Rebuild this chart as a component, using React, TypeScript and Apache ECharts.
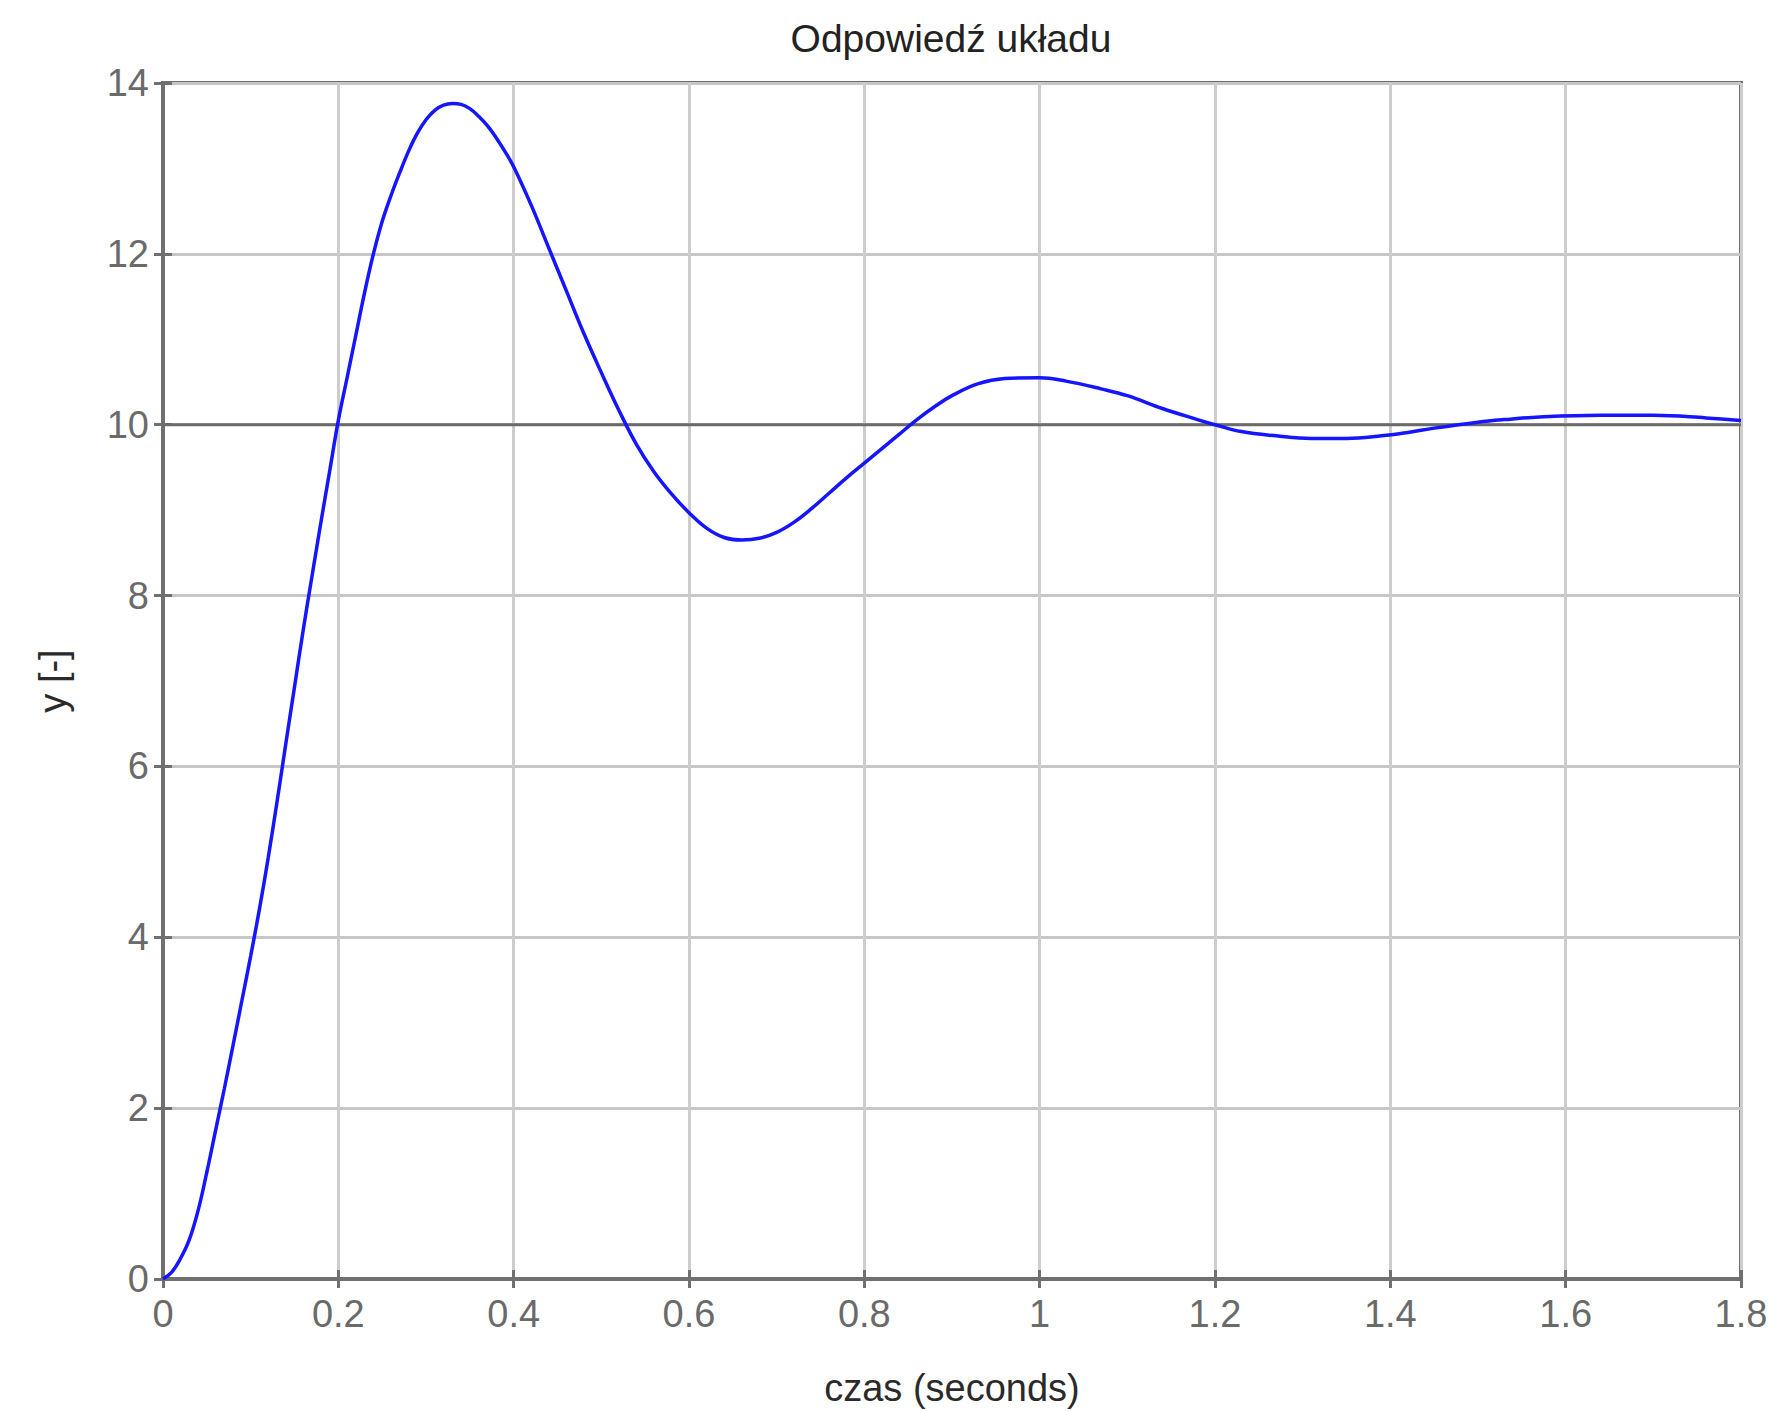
import React, { useEffect, useRef } from "react";
import * as echarts from "echarts";

const titleText = "Odpowiedź układu";
const xName = "czas (seconds)";
const yName = "y [-]";

const times = [
  0, 0.01, 0.02, 0.03, 0.04, 0.05, 0.06, 0.07, 0.08, 0.09, 0.1, 0.11, 0.12, 0.13, 0.14, 0.15,
  0.16, 0.17, 0.18, 0.19, 0.2, 0.21, 0.22, 0.23, 0.24, 0.25, 0.26, 0.27, 0.28, 0.29, 0.3, 0.31,
  0.32, 0.33, 0.34, 0.35, 0.36, 0.37, 0.38, 0.39, 0.4, 0.42, 0.44, 0.46, 0.48, 0.5, 0.52, 0.54,
  0.56, 0.58, 0.6, 0.62, 0.64, 0.66, 0.68, 0.7, 0.72, 0.74, 0.76, 0.78, 0.8, 0.82, 0.84, 0.86,
  0.88, 0.9, 0.93, 0.96, 1.0, 1.03, 1.07, 1.1, 1.14, 1.18, 1.2, 1.23, 1.27, 1.31, 1.35, 1.39,
  1.42, 1.45, 1.5, 1.53, 1.57, 1.64, 1.7, 1.76, 1.8,
];

const response = [
  0, 0.08, 0.24, 0.46, 0.8, 1.25, 1.74, 2.23, 2.74, 3.26, 3.78, 4.33, 4.93, 5.58, 6.26, 6.93,
  7.6, 8.23, 8.85, 9.45, 10.05, 10.55, 11.05, 11.55, 12.0, 12.38, 12.68, 12.95, 13.2, 13.41, 13.57, 13.68,
  13.74, 13.76, 13.75, 13.7, 13.61, 13.5, 13.36, 13.2, 13.02, 12.57, 12.07, 11.57, 11.07, 10.61, 10.17, 9.77,
  9.45, 9.19, 8.97, 8.79, 8.68, 8.65, 8.67, 8.74, 8.86, 9.02, 9.2, 9.38, 9.55, 9.72, 9.89, 10.06,
  10.21, 10.34, 10.48, 10.54, 10.55, 10.51, 10.42, 10.34, 10.19, 10.06, 10.0, 9.92, 9.87, 9.84, 9.84, 9.87,
  9.91, 9.96, 10.03, 10.06, 10.09, 10.11, 10.11, 10.08, 10.05,
];

const refTimes = [0, 1.8];
const refValues = [10, 10];

const xMin = 0;
const xMax = 1.8;
const xStep = 0.2;
const yMin = 0;
const yMax = 14;
const yStep = 2;

const FONT = "'Liberation Sans', Arial, sans-serif";
const FRAME = "#707070";

export default function App() {
  const ref = useRef<HTMLDivElement>(null);

  useEffect(() => {
    if (!ref.current) return;
    const chart = echarts.init(ref.current, undefined, { renderer: "svg" });

    const tick = { show: true, inside: true, length: 9, lineStyle: { color: FRAME, width: 3 } };
    const xFmt = (v: number) => {
      const r = Math.round(v * 10) / 10;
      return Number.isInteger(r) ? String(r) : r.toFixed(1);
    };

    chart.setOption({
      animation: false,
      backgroundColor: "#ffffff",
      title: {
        text: titleText,
        left: 946,
        top: 14,
        textAlign: "center",
        textStyle: { fontFamily: FONT, fontSize: 39, fontWeight: "normal", color: "#222222" },
      },
      grid: {
        left: 163,
        right: 32,
        top: 83,
        bottom: 123,
        show: true,
        borderColor: FRAME,
        borderWidth: 4,
        backgroundColor: "#ffffff",
      },
      xAxis: [
        {
          type: "value",
          min: xMin,
          max: xMax,
          interval: xStep,
          position: "bottom",
          name: xName,
          nameLocation: "middle",
          nameGap: 90,
          nameTextStyle: { fontFamily: FONT, fontSize: 38, color: "#2a2a2a" },
          axisLine: { show: true, lineStyle: { color: FRAME, width: 4 } },
          axisTick: tick,
          axisLabel: {
            fontFamily: FONT,
            fontSize: 38,
            color: "#6a6a6a",
            margin: 16,
            formatter: xFmt,
          },
          splitLine: { show: true, lineStyle: { color: "#cdcdcd", width: 3 } },
        },
        {
          type: "value",
          min: xMin,
          max: xMax,
          interval: xStep,
          position: "top",
          axisLine: { show: true, lineStyle: { color: FRAME, width: 4 } },
          axisTick: tick,
          axisLabel: { show: false },
          splitLine: { show: false },
        },
      ],
      yAxis: [
        {
          type: "value",
          min: yMin,
          max: yMax,
          interval: yStep,
          position: "left",
          name: yName,
          nameLocation: "middle",
          nameGap: 91,
          nameTextStyle: { fontFamily: FONT, fontSize: 38, color: "#2a2a2a" },
          axisLine: { show: true, lineStyle: { color: FRAME, width: 4 } },
          axisTick: tick,
          axisLabel: { fontFamily: FONT, fontSize: 38, color: "#6a6a6a", margin: 14 },
          splitLine: { show: true, lineStyle: { color: "#c6c6c6", width: 3 } },
        },
        {
          type: "value",
          min: yMin,
          max: yMax,
          interval: yStep,
          position: "right",
          axisLine: { show: true, lineStyle: { color: FRAME, width: 4 } },
          axisTick: tick,
          axisLabel: { show: false },
          splitLine: { show: false },
        },
      ],
      series: [
        {
          type: "line",
          xAxisIndex: 0,
          yAxisIndex: 0,
          data: refTimes.map((t, i) => [t, refValues[i]]),
          showSymbol: false,
          lineStyle: { color: "#6b6b6b", width: 3 },
          silent: true,
          z: 2,
        },
        {
          type: "line",
          xAxisIndex: 0,
          yAxisIndex: 0,
          data: times.map((t, i) => [t, response[i]]),
          showSymbol: false,
          smooth: 0.4,
          lineStyle: { color: "#1515ff", width: 3.5 },
          silent: true,
          z: 3,
        },
      ],
    });

    return () => chart.dispose();
  }, []);

  return (
    <div
      ref={ref}
      style={{ position: "fixed", left: 0, top: 0, width: 1773, height: 1412, background: "#fff" }}
    />
  );
}
